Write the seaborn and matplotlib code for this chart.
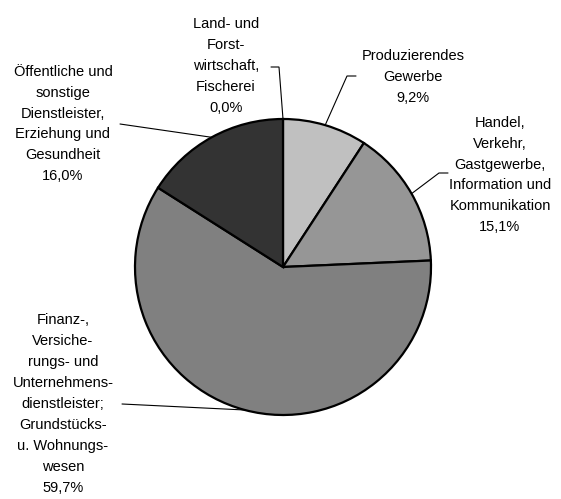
import numpy as np
import matplotlib
matplotlib.use("Agg")
import matplotlib.pyplot as plt
import seaborn as sns

# Anteile der Wirtschaftsbereiche (im Uhrzeigersinn ab 12 Uhr)
sectors = [
    "Land- und\nForst-\nwirtschaft,\nFischerei",
    "Produzierendes\nGewerbe",
    "Handel,\nVerkehr,\nGastgewerbe,\nInformation und\nKommunikation",
    "Finanz-,\nVersiche-\nrungs- und\nUnternehmens-\ndienstleister;\nGrundstücks-\nu. Wohnungs-\nwesen",
    "Öffentliche und\nsonstige\nDienstleister,\nErziehung und\nGesundheit",
]
shares = [0.0, 9.2, 15.1, 59.7, 16.0]
colors = ["#ffffff", "#c0c0c0", "#969696", "#808080", "#333333"]

sns.set_style("white")
plt.rcParams["font.family"] = ["Liberation Sans", "DejaVu Sans"]

W, H = 561, 499
fig = plt.figure(figsize=(W / 100, H / 100), dpi=100)
ax = fig.add_axes([0, 0, 1, 1])

cx, cy, r = 283, H - 267, 148
wedges, _ = ax.pie(shares, colors=colors, startangle=90, counterclock=False,
                   center=(cx, cy), radius=r, frame=True,
                   wedgeprops=dict(edgecolor="black", linewidth=1.6))
ax.set_xlim(0, W)
ax.set_ylim(0, H)
ax.axis("off")

# label layout: text centre, elbow point, line end (pixel coords, y from top)
layout = [
    dict(text=(226, 66), elbow=(279, 67), end=(271, 67)),
    dict(text=(413, 77), elbow=(347, 76), end=(356, 76)),
    dict(text=(500, 175), elbow=(439, 173), end=(448, 173)),
    dict(text=(63, 404), elbow=(122, 404), end=(122, 404)),
    dict(text=(63, 124), elbow=(120, 124), end=(120, 124)),
]

for w, name, val, lay in zip(wedges, sectors, shares, layout):
    ang = np.deg2rad((w.theta1 + w.theta2) / 2)
    px, py = cx + r * np.cos(ang), cy + r * np.sin(ang)
    ex, ey = lay["elbow"]
    tx, ty = lay["end"]
    ax.plot([px, ex, tx], [py, H - ey, H - ty], color="black", lw=0.8,
            solid_joinstyle="miter")
    pct = f"{val:.1f}%".replace(".", ",")
    ax.text(lay["text"][0], H - lay["text"][1], f"{name}\n{pct}", ha="center",
            va="center", fontsize=10.5, linespacing=1.63, color="black")

fig.savefig("out.png", dpi=100)
